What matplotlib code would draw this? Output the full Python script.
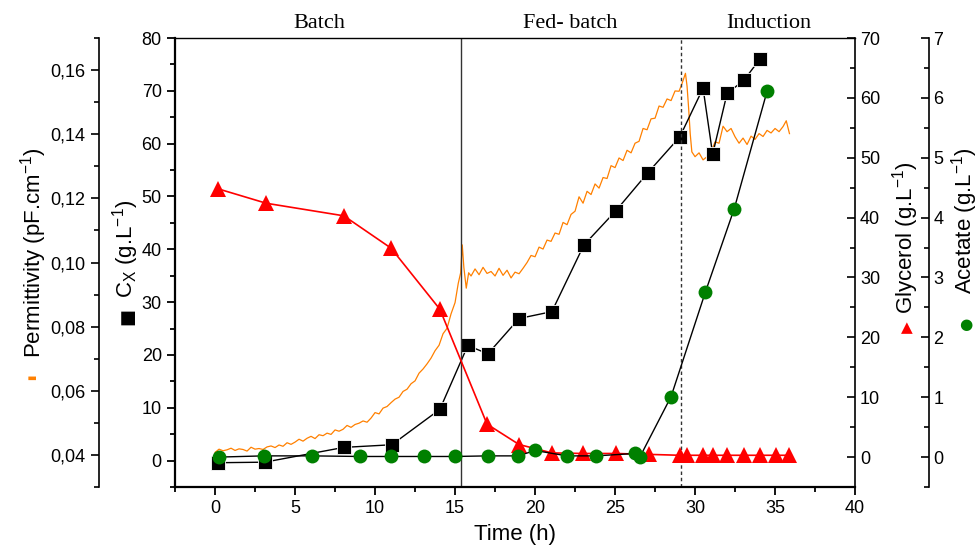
import numpy as np
import matplotlib.pyplot as plt
from matplotlib.ticker import MultipleLocator, FuncFormatter

plt.rcParams['font.family'] = 'Liberation Sans'
plt.rcParams['mathtext.fontset'] = 'custom'
plt.rcParams['mathtext.rm'] = 'Liberation Sans'
plt.rcParams['mathtext.it'] = 'Liberation Sans:italic'

# biomass Cx (g/L)
cx_time = [0.2, 3.1, 8.05, 11.05, 14.05, 15.8, 17.05, 19.0, 21.05, 23.05, 25.05, 27.05,
           29.05, 30.5, 31.1, 32.0, 33.05, 34.05]
cx_val = [-0.4, -0.3, 2.5, 3.0, 9.7, 21.8, 20.2, 26.9, 28.2, 40.8, 47.3, 54.5,
          61.3, 70.5, 58.0, 69.5, 72.0, 76.0]

# glycerol (g/L)
gly_time = [0.2, 3.2, 8.05, 11.0, 14.05, 17.0, 19.0, 21.05, 23.0, 25.05, 27.1,
            29.05, 29.5, 30.5, 31.1, 32.0, 33.05, 34.05, 35.05, 35.9]
gly_val = [44.8, 42.4, 40.3, 34.9, 24.7, 5.5, 2.1, 0.7, 0.6, 0.6, 0.45,
           0.3, 0.3, 0.3, 0.3, 0.3, 0.3, 0.3, 0.3, 0.3]

# acetate (g/L)
ace_time = [0.25, 3.05, 6.05, 9.05, 11.0, 13.05, 15.0, 17.05, 18.95, 20.0, 22.0,
            23.8, 26.25, 26.55, 28.5, 30.65, 32.45, 34.5]
ace_val = [0.0, 0.02, 0.02, 0.01, 0.01, 0.01, 0.01, 0.02, 0.02, 0.11, 0.02,
           0.02, 0.06, 0.0, 1.01, 2.76, 4.15, 6.11]

# permittivity (pF/cm)
perm_time = [0.0, 0.25, 0.5, 0.75, 1.0, 1.25, 1.5, 1.75, 2.0, 2.25, 2.5, 2.75,
             3.0, 3.25, 3.5, 3.75, 4.0, 4.25, 4.5, 4.75, 5.0, 5.25, 5.5, 5.75,
             6.0, 6.25, 6.5, 6.75, 7.0, 7.25, 7.5, 7.75, 8.0, 8.25, 8.5, 8.75,
             9.0, 9.25, 9.5, 9.75, 10.0, 10.25, 10.5, 10.75, 11.0, 11.25, 11.5, 11.75,
             12.0, 12.25, 12.5, 12.75, 13.0, 13.25, 13.5, 13.75, 14.0, 14.25, 14.5, 14.75,
             15.0, 15.2, 15.35, 15.45, 15.55, 15.7, 15.85,
             16.0, 16.25, 16.5, 16.75, 17.0, 17.25, 17.5, 17.75, 18.0, 18.25, 18.5, 18.75,
             19.0, 19.25, 19.5, 19.75, 20.0, 20.25, 20.5, 20.75, 21.0, 21.25, 21.5, 21.75,
             22.0, 22.25, 22.5, 22.75, 23.0, 23.25, 23.5, 23.75, 24.0, 24.25, 24.5, 24.75,
             25.0, 25.25, 25.5, 25.75, 26.0, 26.25, 26.5, 26.75, 27.0, 27.25, 27.5, 27.75,
             28.0, 28.25, 28.5, 28.75, 29.0, 29.2, 29.4, 29.5, 29.6, 29.7, 29.8,
             30.0, 30.25, 30.5, 30.75, 31.0, 31.25, 31.5, 31.75, 32.0, 32.25, 32.5, 32.75,
             33.0, 33.25, 33.5, 33.75, 34.0, 34.25, 34.5, 34.75, 35.0, 35.25, 35.5, 35.7, 35.9]
perm_val = [0.0408, 0.0418, 0.0413, 0.0416, 0.0421, 0.0414, 0.0419, 0.0417,
            0.0412, 0.0424, 0.0418, 0.0420, 0.0417, 0.0425, 0.0428, 0.0423,
            0.0431, 0.0427, 0.0438, 0.0433, 0.0440, 0.0449, 0.0443, 0.0452,
            0.0458, 0.0451, 0.0463, 0.0460, 0.0468, 0.0464, 0.0478, 0.0474,
            0.0480, 0.0492, 0.0486, 0.0495, 0.0499, 0.0506, 0.0502, 0.0515,
            0.0532, 0.0528, 0.0546, 0.0551, 0.0563, 0.0574, 0.0580, 0.0598,
            0.0605, 0.0622, 0.0631, 0.0655, 0.0668, 0.0684, 0.0702, 0.0725,
            0.0742, 0.0778, 0.0795, 0.0840,
            0.0875, 0.0935, 0.0968, 0.1055, 0.0985, 0.0920, 0.0968,
            0.0958, 0.0980, 0.0962, 0.0985, 0.0966, 0.0972, 0.0958, 0.0982,
            0.0960, 0.0976, 0.0952, 0.0970, 0.0965, 0.0982, 0.1000, 0.1022,
            0.1018, 0.1048, 0.1042, 0.1070, 0.1066, 0.1092, 0.1088, 0.1125,
            0.1118, 0.1150, 0.1160, 0.1205, 0.1185, 0.1222, 0.1212, 0.1245,
            0.1232, 0.1265, 0.1262, 0.1302, 0.1296, 0.1326, 0.1318, 0.1350,
            0.1342, 0.1372, 0.1378, 0.1418, 0.1414, 0.1448, 0.1450, 0.1488,
            0.1484, 0.1510, 0.1505, 0.1535, 0.1534, 0.1560, 0.1590, 0.1550,
            0.1480, 0.1400, 0.1345,
            0.1330, 0.1342, 0.1320, 0.1330, 0.1345, 0.1376, 0.1372, 0.1425,
            0.1408, 0.1418, 0.1392, 0.1372, 0.1388, 0.1368, 0.1394, 0.1384,
            0.1402, 0.1393, 0.1412, 0.1404, 0.1418, 0.1408, 0.1424, 0.1442, 0.1402]

phases = ["Batch", "Fed- batch", "Induction"]
phase_pos = [6.5, 22.2, 34.6]
phase_bounds = [15.4, 29.1]

orange = "#ff8000"
red = "#ff0000"
green = "#008000"

fig = plt.figure(figsize=(9.79, 5.48), dpi=100)
ax = fig.add_axes([0.1788, 0.1113, 0.6946, 0.8193])
ax_p = ax.twinx()
ax_g = ax.twinx()
ax_a = ax.twinx()
ax_p.set_zorder(1)
ax.set_zorder(2)
ax_g.set_zorder(3)
ax_a.set_zorder(4)
for a in (ax, ax_p, ax_g, ax_a):
    a.patch.set_visible(False)

ax_p.plot(perm_time, perm_val, color=orange, lw=0.9)
ax.plot(cx_time, cx_val, color="black", lw=1.0, marker="s", ms=9.5,
        mfc="black", mec="white", mew=0.6)
ax_g.plot(gly_time, gly_val, color=red, lw=1.2, marker="^", ms=11.5,
          mfc=red, mec=red, mew=0)
ax_a.plot(ace_time, ace_val, color="black", lw=1.0, marker="o", ms=10,
          mfc=green, mec=green, mew=0)

ax.axvline(phase_bounds[0], color="#333333", lw=1.0)
ax.axvline(phase_bounds[1], color="#333333", lw=1.0, ls=(0, (2.5, 2)))
for name, xp in zip(phases, phase_pos):
    ax.text(xp, 1.033, name, transform=ax.get_xaxis_transform(), ha="center",
            va="center", fontsize=16, family="Liberation Serif", clip_on=False)

# main axis (Cx) and time
ax.set_xlim(-2.5, 40)
ax.set_ylim(-5, 80)
ax.xaxis.set_major_locator(MultipleLocator(5))
ax.xaxis.set_minor_locator(MultipleLocator(2.5))
ax.yaxis.set_major_locator(MultipleLocator(10))
ax.yaxis.set_minor_locator(MultipleLocator(5))
ax.spines["right"].set_visible(False)
ax.spines["top"].set_linewidth(1.0)
ax.spines["left"].set_linewidth(1.6)
ax.spines["bottom"].set_linewidth(1.6)
ax.tick_params(which="both", direction="out", labelsize=13, width=1.3)
ax.tick_params(which="major", length=6)
ax.tick_params(which="minor", length=3.5)
ax.set_xlabel("Time (h)", fontsize=16, labelpad=5)

# permittivity axis (outer left)
ax_p.set_ylim(0.03, 0.17)
for s in ("top", "right", "bottom"):
    ax_p.spines[s].set_visible(False)
ax_p.spines["left"].set_visible(True)
ax_p.spines["left"].set_position(("outward", 55))
ax_p.spines["left"].set_linewidth(1.2)
ax_p.yaxis.tick_left()
ax_p.yaxis.set_major_locator(MultipleLocator(0.02))
ax_p.yaxis.set_minor_locator(MultipleLocator(0.01))
ax_p.yaxis.set_major_formatter(FuncFormatter(lambda v, p: f"{v:.2f}".replace(".", ",")))
ax_p.tick_params(which="both", direction="out", labelsize=13, width=1.2)
ax_p.tick_params(which="major", length=6)
ax_p.tick_params(which="minor", length=3.5)

# glycerol axis (inner right)
ax_g.set_ylim(-5, 70)
for s in ("top", "left", "bottom"):
    ax_g.spines[s].set_visible(False)
ax_g.spines["right"].set_linewidth(1.2)
ax_g.yaxis.set_major_locator(MultipleLocator(10))
ax_g.yaxis.set_minor_locator(MultipleLocator(5))
ax_g.tick_params(which="both", direction="in", labelsize=13, width=1.2)
ax_g.tick_params(which="major", length=6)
ax_g.tick_params(which="minor", length=3.5)

# acetate axis (outer right)
ax_a.set_ylim(-0.5, 7)
for s in ("top", "left", "bottom"):
    ax_a.spines[s].set_visible(False)
ax_a.spines["right"].set_position(("outward", 53))
ax_a.spines["right"].set_linewidth(1.2)
ax_a.yaxis.set_major_locator(MultipleLocator(1))
ax_a.yaxis.set_minor_locator(MultipleLocator(0.5))
ax_a.tick_params(which="both", direction="in", labelsize=13, width=1.2)
ax_a.tick_params(which="major", length=6)
ax_a.tick_params(which="minor", length=3.5)

# axis titles with their symbols, as in the original
fig.text(0.034, 0.539, r"Permittivity (pF.cm$^{\mathregular{-1}}$)", rotation=90,
         ha="center", va="center", fontsize=16)
fig.text(0.033, 0.312, "\u25ae", rotation=90, ha="center", va="center",
         fontsize=7, color=orange, family="DejaVu Sans")
fig.text(0.128, 0.546, r"C$_{\mathregular{X}}$ (g.L$^{\mathregular{-1}}$)", rotation=90,
         ha="center", va="center", fontsize=16)
fig.text(0.130, 0.423, "\u25a0", rotation=90, ha="center", va="center",
         fontsize=13, color="black", family="DejaVu Sans")
fig.text(0.925, 0.567, r"Glycerol (g.L$^{\mathregular{-1}}$)", rotation=90,
         ha="center", va="center", fontsize=16)
fig.text(0.926, 0.402, "\u25b2", ha="center", va="center",
         fontsize=11, color=red, family="DejaVu Sans")
fig.text(0.985, 0.598, r"Acetate (g.L$^{\mathregular{-1}}$)", rotation=90,
         ha="center", va="center", fontsize=16)
fig.text(0.986, 0.407, "\u25cf", ha="center", va="center",
         fontsize=11, color=green, family="DejaVu Sans")

fig.savefig("out.png", dpi=100)
